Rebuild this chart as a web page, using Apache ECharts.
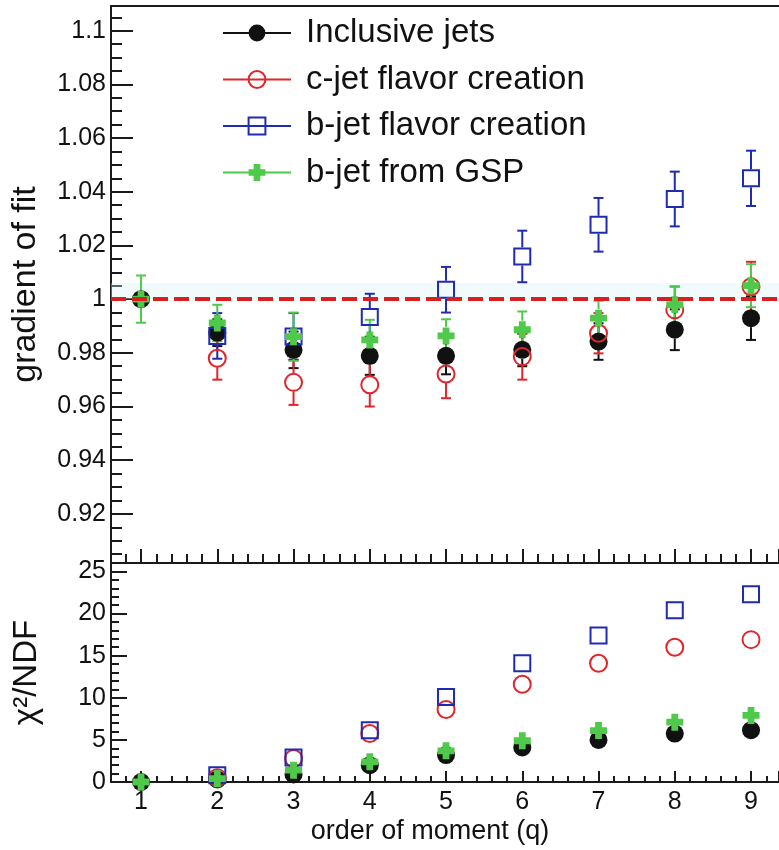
<!DOCTYPE html>
<html>
<head>
<meta charset="utf-8">
<script src="https://cdn.jsdelivr.net/npm/echarts@6/dist/echarts.min.js"></script>
<style>
  html, body { margin: 0; padding: 0; background: #fff; }
  #main { width: 779px; height: 850px; }
</style>
</head>
<body>
<div id="main"></div>
<script>
// order of moment
const q = [1, 2, 3, 4, 5, 6, 7, 8, 9];

// gradient of fit (top panel) and its errors; null = no marker drawn
const gradIncl = [1.000, 0.9875, 0.9811, 0.9789, 0.9789, 0.9811, 0.9842, 0.9886, 0.9929];
const errIncl  = [0.0015, 0.0050, 0.0068, 0.0071, 0.0069, 0.0061, 0.0068, 0.0076, 0.0081];
const gradC    = [null, 0.9780, 0.9690, 0.9681, 0.9721, 0.9786, 0.9873, 0.9960, 1.0046];
const errC     = [0, 0.0080, 0.0084, 0.0081, 0.0090, 0.0086, 0.0075, 0.0087, 0.0093];
const gradB    = [null, 0.9863, 0.9861, 0.9933, 1.0035, 1.0159, 1.0277, 1.0373, 1.0450];
const errB     = [0, 0.0085, 0.0087, 0.0087, 0.0085, 0.0096, 0.0100, 0.0102, 0.0103];
const gradGSP  = [1.000, 0.9911, 0.9860, 0.9848, 0.9863, 0.9886, 0.9929, 0.9979, 1.0050];
const errGSP   = [0.0088, 0.0068, 0.0090, 0.0075, 0.0062, 0.0068, 0.0065, 0.0068, 0.0080];

// chi2/NDF (bottom panel)
const chiIncl = [0, 0.3, 0.9, 2.0, 3.2, 4.1, 5.0, 5.75, 6.15];
const chiC    = [null, 0.5, 2.8, 5.75, 8.6, 11.6, 14.1, 16.0, 16.9];
const chiB    = [null, 0.8, 2.9, 6.15, 10.1, 14.1, 17.4, 20.4, 22.3];
const chiGSP  = [0, 0.4, 1.4, 2.4, 3.7, 4.9, 6.1, 7.1, 7.9];

const names = ['Inclusive jets', 'c-jet flavor creation', 'b-jet flavor creation', 'b-jet from GSP'];

const FONT = 'Liberation Sans';
const BLACK = '#111111', RED = '#e0262b', BLUE = '#1f2bb0', GREEN = '#4fc94a';
const AX = '#1a1a1a';
const PLUS = 'path://M3,0H7V3H10V7H7V10H3V7H0V3H3Z';

const styles = [
  { color: BLACK, symbol: 'circle', fill: BLACK, size: 18 },
  { color: RED, symbol: 'circle', fill: 'rgba(0,0,0,0)', size: 17 },
  { color: BLUE, symbol: 'rect', fill: 'rgba(0,0,0,0)', size: 16 },
  { color: GREEN, symbol: PLUS, fill: GREEN, size: 17 }
];

function pairs(ys) { return q.map((x, i) => [x, ys[i] === null ? '-' : ys[i]]); }
function triples(ys, es) {
  return q.filter((x, i) => ys[i] !== null).map(x => [x, ys[x - 1], es[x - 1]]);
}

function errSeries(ys, es, color) {
  return {
    type: 'custom',
    xAxisIndex: 0, yAxisIndex: 0,
    data: triples(ys, es),
    silent: true,
    renderItem: function (params, api) {
      const x = api.value(0), y = api.value(1), e = api.value(2);
      const c = api.coord([x, y]);
      const hi = api.coord([x, y + e]);
      const lo = api.coord([x, y - e]);
      const gap = 9, cap = 5;
      const st = { stroke: color, lineWidth: 2 };
      const kids = [];
      if (c[1] - hi[1] > gap) {
        kids.push({ type: 'line', shape: { x1: c[0], y1: c[1] - gap, x2: hi[0], y2: hi[1] }, style: st });
        kids.push({ type: 'line', shape: { x1: hi[0] - cap, y1: hi[1], x2: hi[0] + cap, y2: hi[1] }, style: st });
      }
      if (lo[1] - c[1] > gap) {
        kids.push({ type: 'line', shape: { x1: c[0], y1: c[1] + gap, x2: lo[0], y2: lo[1] }, style: st });
        kids.push({ type: 'line', shape: { x1: lo[0] - cap, y1: lo[1], x2: lo[0] + cap, y2: lo[1] }, style: st });
      }
      return { type: 'group', children: kids };
    }
  };
}

function pointSeries(name, ys, s, xi, yi, extra) {
  return Object.assign({
    name: name,
    type: 'line',
    xAxisIndex: xi, yAxisIndex: yi,
    data: pairs(ys),
    symbol: s.symbol,
    symbolSize: s.size,
    showAllSymbol: true,
    connectNulls: false,
    lineStyle: { color: s.color, width: 2, opacity: 0 },
    itemStyle: { color: s.fill, borderColor: s.color, borderWidth: s.fill === s.color ? 0 : 2, opacity: 1 },
    emphasis: { disabled: true },
    silent: true
  }, extra || {});
}

const grads = [gradIncl, gradC, gradB, gradGSP];
const errs = [errIncl, errC, errB, errGSP];
const chis = [chiIncl, chiC, chiB, chiGSP];

const series = [];
for (let i = 0; i < 4; i++) series.push(errSeries(grads[i], errs[i], styles[i].color));
for (let i = 0; i < 4; i++) {
  const extra = i === 0 ? {
    markLine: {
      silent: true, symbol: 'none', z: 10,
      label: { show: false },
      lineStyle: { color: '#d92020', width: 4, type: [15, 6], opacity: 1 },
      data: [{ yAxis: 1 }]
    },
    markArea: {
      silent: true,
      itemStyle: { color: 'rgba(215,242,250,0.35)' },
      data: [[{ yAxis: 1.0 }, { yAxis: 1.006 }]]
    }
  } : {};
  series.push(pointSeries(names[i], grads[i], styles[i], 0, 0, extra));
}
for (let i = 0; i < 4; i++) series.push(pointSeries(names[i] + ' chi2', chis[i], styles[i], 2, 1));

const labelStyle = { fontFamily: FONT, fontSize: 25, color: '#111' };

const option = {
  animation: false,
  backgroundColor: '#ffffff',
  grid: [
    { left: 111, top: 6, right: 0, height: 557 },
    { left: 111, top: 563, right: 0, height: 219 }
  ],
  legend: {
    orient: 'vertical',
    left: 222, top: 16, padding: 0,
    itemWidth: 68, itemHeight: 21, itemGap: 12.5,
    selectedMode: false,
    textStyle: { fontFamily: FONT, fontSize: 33, color: '#111', lineHeight: 34, padding: [0, 0, 0, 10] },
    data: names.map((n, i) => ({
      name: n,
      lineStyle: { color: styles[i].color, width: 2, opacity: 1 }
    }))
  },
  xAxis: [
    {
      type: 'value', gridIndex: 0, position: 'bottom', min: 0.606, max: 9.367, splitNumber: 9,
      axisLine: { onZero: false, lineStyle: { color: AX, width: 2 } },
      axisTick: { inside: true, length: 14, lineStyle: { color: AX, width: 2 } },
      minorTick: { show: true, splitNumber: 5, length: 9, lineStyle: { color: AX, width: 2 } },
      axisLabel: { show: false },
      splitLine: { show: false }
    },
    {
      type: 'value', gridIndex: 0, position: 'top', min: 0.606, max: 9.367,
      axisLine: { onZero: false, lineStyle: { color: AX, width: 2 } },
      axisTick: { show: false }, axisLabel: { show: false }, splitLine: { show: false }
    },
    {
      type: 'value', gridIndex: 1, position: 'bottom', min: 0.606, max: 9.367, splitNumber: 9,
      axisLine: { onZero: false, lineStyle: { color: AX, width: 2 } },
      axisTick: { inside: true, length: 11, lineStyle: { color: AX, width: 2 } },
      minorTick: { show: true, splitNumber: 5, length: 6, lineStyle: { color: AX, width: 2 } },
      axisLabel: Object.assign({ margin: 8, showMinLabel: false, showMaxLabel: false }, labelStyle),
      splitLine: { show: false },
      name: 'order of moment (q)',
      nameLocation: 'middle', nameGap: 36,
      nameTextStyle: { fontFamily: FONT, fontSize: 27, color: '#111', padding: [0, 30, 0, 0] }
    }
  ],
  yAxis: [
    {
      type: 'value', gridIndex: 0, min: 0.9017, max: 1.1092, splitNumber: 10,
      axisLine: { onZero: false, lineStyle: { color: AX, width: 2 } },
      axisTick: { inside: true, length: 22, lineStyle: { color: AX, width: 2 } },
      minorTick: { show: true, splitNumber: 4, length: 11, lineStyle: { color: AX, width: 2 } },
      axisLabel: Object.assign({ margin: 5, showMinLabel: false, showMaxLabel: false }, labelStyle),
      splitLine: { show: false },
      name: 'gradient of fit',
      nameLocation: 'middle', nameGap: 68,
      nameTextStyle: { fontFamily: FONT, fontSize: 34, color: '#111' }
    },
    {
      type: 'value', gridIndex: 1, min: 0, max: 26, interval: 5,
      axisLine: { onZero: false, lineStyle: { color: AX, width: 2 } },
      axisTick: { inside: true, length: 16, lineStyle: { color: AX, width: 2 } },
      minorTick: { show: true, splitNumber: 5, length: 8, lineStyle: { color: AX, width: 2 } },
      axisLabel: Object.assign({ margin: 5, showMaxLabel: false }, labelStyle),
      splitLine: { show: false },
      name: 'χ²/NDF',
      nameLocation: 'middle', nameGap: 68,
      nameTextStyle: { fontFamily: FONT, fontSize: 33, color: '#111' }
    }
  ],
  series: series
};

const chart = echarts.init(document.getElementById('main'), null, { renderer: 'canvas' });
chart.setOption(option);
</script>
</body>
</html>
